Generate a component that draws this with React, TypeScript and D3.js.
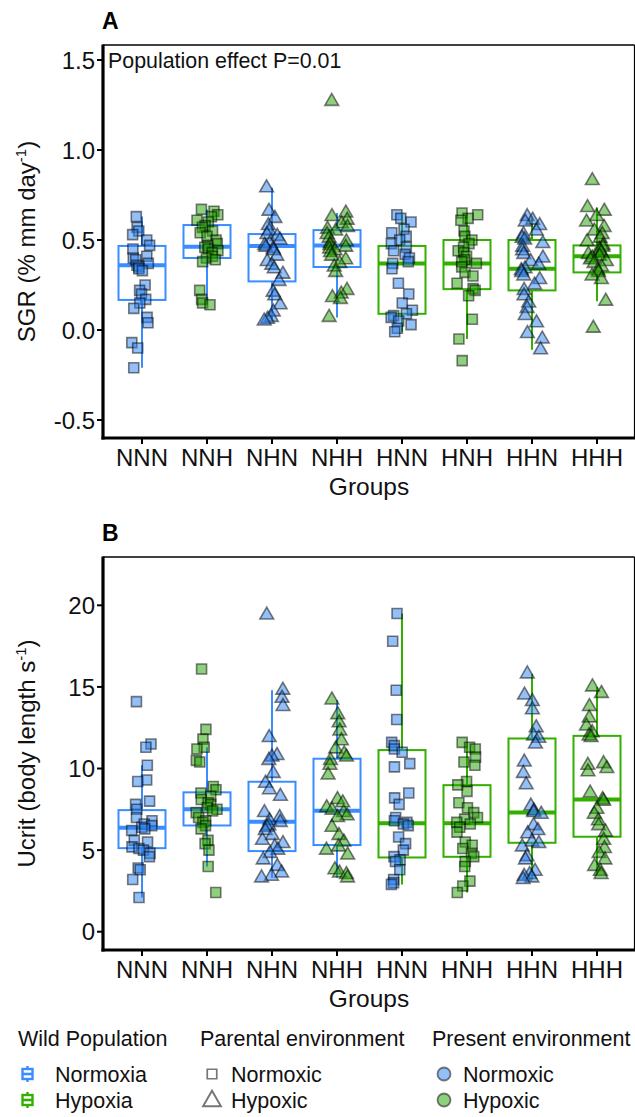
import React from 'react';
import * as d3 from 'd3';

// ---------- DATA ----------
const groups = ['NNN', 'NNH', 'NHN', 'NHH', 'HNN', 'HNH', 'HHN', 'HHH'];
const sgrTicks = [-0.5, 0.0, 0.5, 1.0, 1.5];
const ucritTicks = [0, 5, 10, 15, 20];

// SGR (% mm day-1) per group
const sgrNNN = [0.63, 0.57, 0.55, 0.53, 0.50, 0.47, 0.45, 0.41, 0.40, 0.39, 0.37, 0.36, 0.35, 0.34, 0.33, 0.25, 0.22, 0.20, 0.17, 0.15, 0.12, 0.07, 0.04, -0.07, -0.10, -0.21];
const sgrNNH = [0.67, 0.66, 0.64, 0.63, 0.61, 0.60, 0.58, 0.57, 0.55, 0.54, 0.52, 0.50, 0.48, 0.47, 0.46, 0.45, 0.44, 0.43, 0.41, 0.40, 0.39, 0.38, 0.22, 0.17, 0.15, 0.14];
const sgrNHN = [0.79, 0.66, 0.62, 0.58, 0.55, 0.53, 0.52, 0.50, 0.48, 0.47, 0.46, 0.45, 0.44, 0.41, 0.38, 0.36, 0.34, 0.31, 0.27, 0.21, 0.19, 0.14, 0.10, 0.07, 0.06, 0.05];
const sgrNHH = [1.27, 0.65, 0.63, 0.61, 0.59, 0.57, 0.56, 0.55, 0.53, 0.51, 0.49, 0.48, 0.47, 0.46, 0.45, 0.44, 0.43, 0.41, 0.39, 0.37, 0.35, 0.32, 0.22, 0.20, 0.18, 0.17, 0.07];
const sgrHNN = [0.64, 0.62, 0.60, 0.56, 0.54, 0.52, 0.50, 0.48, 0.46, 0.44, 0.42, 0.40, 0.38, 0.37, 0.34, 0.26, 0.20, 0.15, 0.11, 0.09, 0.08, 0.07, 0.05, 0.03, 0.01, -0.01];
const sgrHNH = [0.65, 0.64, 0.62, 0.61, 0.55, 0.52, 0.50, 0.48, 0.46, 0.44, 0.43, 0.41, 0.39, 0.38, 0.37, 0.35, 0.32, 0.30, 0.26, 0.23, 0.22, 0.19, 0.06, -0.05, -0.17];
const sgrHHN = [0.63, 0.61, 0.60, 0.58, 0.55, 0.53, 0.51, 0.50, 0.48, 0.46, 0.44, 0.42, 0.40, 0.38, 0.36, 0.34, 0.33, 0.32, 0.30, 0.28, 0.25, 0.22, 0.19, 0.15, 0.12, 0.08, 0.04, -0.02, -0.05, -0.11];
const sgrHHH = [0.83, 0.68, 0.66, 0.63, 0.60, 0.57, 0.55, 0.53, 0.51, 0.49, 0.47, 0.46, 0.45, 0.44, 0.43, 0.42, 0.41, 0.40, 0.39, 0.38, 0.37, 0.35, 0.33, 0.32, 0.30, 0.28, 0.16, 0.01];

// SGR box statistics
const sgrLo = [-0.21, 0.14, 0.05, 0.07, -0.01, -0.05, -0.11, 0.16];
const sgrQ1 = [0.167, 0.40, 0.27, 0.35, 0.09, 0.227, 0.22, 0.32];
const sgrMed = [0.36, 0.463, 0.467, 0.47, 0.37, 0.37, 0.34, 0.41];
const sgrQ3 = [0.467, 0.583, 0.533, 0.555, 0.467, 0.50, 0.50, 0.47];
const sgrHi = [0.63, 0.67, 0.79, 0.65, 0.64, 0.65, 0.63, 0.68];

// Ucrit (body length s-1) per group
const ucNNN = [14.1, 11.5, 11.3, 10.2, 9.3, 9.2, 8.0, 7.8, 7.5, 7.0, 6.8, 6.6, 6.5, 6.4, 6.3, 6.2, 5.6, 5.5, 5.2, 5.1, 5.0, 4.8, 4.6, 3.9, 3.8, 3.2, 2.1];
const ucNNH = [16.1, 12.4, 11.8, 11.3, 11.2, 10.5, 10.4, 8.9, 8.7, 8.5, 8.3, 8.1, 7.9, 7.8, 7.6, 7.5, 7.4, 7.3, 7.0, 6.8, 6.7, 6.5, 6.3, 5.6, 5.4, 5.0, 4.0, 2.4];
const ucNHN = [19.4, 14.8, 14.3, 13.8, 11.9, 10.8, 10.7, 10.5, 9.7, 9.1, 8.7, 8.3, 7.3, 7.0, 6.8, 6.7, 6.5, 6.4, 6.2, 5.9, 5.6, 5.4, 5.2, 5.0, 4.8, 4.4, 4.0, 3.6, 3.4, 3.3];
const ucNHH = [14.2, 13.3, 12.8, 12.3, 11.7, 11.2, 10.9, 10.7, 10.5, 10.2, 9.6, 8.1, 7.9, 7.6, 7.45, 7.3, 7.1, 7.0, 6.4, 5.9, 5.5, 5.2, 5.0, 4.7, 3.8, 3.6, 3.5, 3.3];
const ucHNN = [19.5, 17.8, 14.8, 13.0, 11.6, 11.4, 11.2, 11.0, 10.3, 10.1, 8.5, 8.2, 7.8, 7.0, 6.8, 6.7, 6.6, 6.5, 5.8, 5.4, 5.0, 4.6, 4.4, 4.3, 3.8, 3.2, 3.0, 2.9];
const ucHNH = [11.6, 11.3, 11.2, 10.7, 10.4, 10.2, 9.2, 9.0, 8.6, 7.9, 7.6, 7.3, 7.0, 6.9, 6.7, 6.6, 6.4, 6.1, 5.5, 5.3, 5.1, 4.8, 4.6, 4.3, 4.0, 3.1, 2.8, 2.4];
const ucHHN = [15.8, 14.5, 14.1, 13.6, 12.5, 12.0, 11.85, 11.5, 10.4, 9.7, 9.0, 7.7, 7.4, 7.3, 7.2, 6.5, 6.2, 6.0, 5.5, 5.4, 5.2, 4.6, 4.4, 3.7, 3.5, 3.4, 3.3, 3.2];
const ucHHH = [15.0, 14.6, 13.8, 13.1, 12.6, 12.2, 12.0, 11.9, 10.3, 10.2, 10.0, 9.8, 8.5, 8.1, 8.0, 7.5, 7.2, 6.8, 6.5, 6.1, 5.6, 5.1, 4.8, 4.4, 4.0, 3.7, 3.5];

// Ucrit box statistics
const ucLo = [2.1, 4.0, 3.3, 3.3, 2.9, 2.4, 3.2, 3.5];
const ucQ1 = [5.12, 6.51, 4.94, 5.31, 4.55, 4.59, 5.45, 5.82];
const ucMed = [6.37, 7.5, 6.74, 7.41, 6.64, 6.64, 7.31, 8.1];
const ucQ3 = [7.45, 8.54, 9.19, 10.6, 11.13, 8.98, 11.84, 12.0];
const ucHi = [10.2, 11.3, 14.8, 14.2, 19.5, 11.6, 15.8, 15.0];

const sgrValues = [sgrNNN, sgrNNH, sgrNHN, sgrNHH, sgrHNN, sgrHNH, sgrHHN, sgrHHH];
const ucValues = [ucNNN, ucNNH, ucNHN, ucNHH, ucHNN, ucHNH, ucHHN, ucHHH];

// ---------- STYLE ----------
const FONT = "'Liberation Sans', Arial, Helvetica, sans-serif";
const BOX_BLUE = '#3A8DFF';
const BOX_GREEN = '#33AF00';
const PT_BLUE = '#2A7FF0';
const PT_GREEN = '#22A000';
const W = 635;
const H = 1117;

const xScale = d3.scalePoint<string>().domain(groups).range([103, 636]).padding(0.6);

function jitterFor(seed: number, n: number) {
  const rnd = d3.randomUniform.source(d3.randomLcg(seed))(-11, 11);
  return d3.range(n).map(() => rnd());
}

const sqPath = d3.symbol().type(d3.symbolSquare).size(100)() as string;
const triPath = d3.symbol().type(d3.symbolTriangle).size(82)() as string;

type PanelProps = {
  top: number;
  bottom: number;
  domain: [number, number];
  ticks: number[];
  tickFmt: (v: number) => string;
  values: number[][];
  lo: number[];
  q1: number[];
  med: number[];
  q3: number[];
  hi: number[];
  label: string;
  ylabelMain: string;
  ylabelSup: string;
  annotation?: string;
  seed: number;
};

function Panel(p: PanelProps) {
  const y = d3.scaleLinear().domain(p.domain).range([p.bottom, p.top]);
  const left = 103;
  const right = 634.5;
  const half = 23.5;
  const cy = (p.top + p.bottom) / 2;
  return (
    <g>
      <text x={102} y={p.top - 16} fontFamily={FONT} fontWeight="bold" fontSize={23}>{p.label}</text>
      {/* boxplots */}
      {groups.map((g, i) => {
        const cx = xScale(g)!;
        const col = g[0] === 'N' ? BOX_BLUE : BOX_GREEN;
        return (
          <g key={'b' + g}>
            <line x1={cx} x2={cx} y1={y(p.hi[i])} y2={y(p.q3[i])} stroke={col} strokeWidth={2} />
            <line x1={cx} x2={cx} y1={y(p.q1[i])} y2={y(p.lo[i])} stroke={col} strokeWidth={2} />
            <rect x={cx - half} y={y(p.q3[i])} width={half * 2} height={y(p.q1[i]) - y(p.q3[i])} fill="none" stroke={col} strokeWidth={2} />
            <line x1={cx - half} x2={cx + half} y1={y(p.med[i])} y2={y(p.med[i])} stroke={col} strokeWidth={4} />
          </g>
        );
      })}
      {/* points */}
      {groups.map((g, i) => {
        const cx = xScale(g)!;
        const jit = jitterFor(p.seed + i * 17, p.values[i].length);
        const fill = g[2] === 'N' ? PT_BLUE : PT_GREEN;
        const path = g[1] === 'N' ? sqPath : triPath;
        return (
          <g key={'p' + g}>
            {p.values[i].map((v, k) => (
              <path key={k} d={path} transform={`translate(${cx + jit[k]},${y(v)})`} fill={fill} fillOpacity={0.5} stroke="#000" strokeOpacity={0.5} strokeWidth={1.6} />
            ))}
          </g>
        );
      })}
      {/* panel border */}
      <line x1={left} x2={right} y1={p.top} y2={p.top} stroke="#000" strokeWidth={1.4} />
      <line x1={right} x2={right} y1={p.top} y2={p.bottom} stroke="#000" strokeWidth={1.2} />
      <line x1={left} x2={left} y1={p.top - 0.5} y2={p.bottom + 1.5} stroke="#000" strokeWidth={3.2} />
      <line x1={left - 1.5} x2={W} y1={p.bottom} y2={p.bottom} stroke="#000" strokeWidth={3.2} />
      {/* y ticks */}
      {p.ticks.map((t) => (
        <g key={'yt' + t}>
          <line x1={left - 6} x2={left} y1={y(t)} y2={y(t)} stroke="#000" strokeWidth={2} />
          <text x={left - 8} y={y(t)} dy="0.36em" textAnchor="end" fontFamily={FONT} fontSize={24} fill="#111">{p.tickFmt(t)}</text>
        </g>
      ))}
      {/* x ticks */}
      {groups.map((g) => (
        <g key={'xt' + g}>
          <line x1={xScale(g)} x2={xScale(g)} y1={p.bottom} y2={p.bottom + 6} stroke="#000" strokeWidth={2} />
          <text x={xScale(g)} y={p.bottom + 28} textAnchor="middle" fontFamily={FONT} fontSize={24} fill="#111">{g}</text>
        </g>
      ))}
      <text x={(left + W) / 2} y={p.bottom + 57} textAnchor="middle" fontFamily={FONT} fontSize={24.5} fill="#111">Groups</text>
      <text transform={`translate(35,${cy}) rotate(-90)`} textAnchor="middle" fontFamily={FONT} fontSize={24} fill="#111">
        {p.ylabelMain}
        <tspan dy={-9} fontSize={15}>{p.ylabelSup}</tspan>
        <tspan dy={9}>)</tspan>
      </text>
      {p.annotation && (
        <text x={108} y={p.top + 23} fontFamily={FONT} fontSize={21.4} fill="#111">{p.annotation}</text>
      )}
    </g>
  );
}

function Legend() {
  const r1 = 1074;
  const r2 = 1100;
  const fs = 21.5;
  const boxKey = (cy: number, col: string) => (
    <g>
      <line x1={27.5} x2={27.5} y1={cy - 8} y2={cy + 8} stroke={col} strokeWidth={2.4} />
      <rect x={22.5} y={cy - 5} width={10} height={10} fill="#fff" stroke={col} strokeWidth={2.4} />
      <line x1={22.5} x2={32.5} y1={cy} y2={cy} stroke={col} strokeWidth={2.6} />
    </g>
  );
  return (
    <g fontFamily={FONT} fill="#111">
      <text x={18} y={1046} fontSize={fs}>Wild Population</text>
      <text x={200} y={1046} fontSize={fs}>Parental environment</text>
      <text x={432} y={1046} fontSize={fs}>Present environment</text>
      {boxKey(r1, BOX_BLUE)}
      {boxKey(r2, BOX_GREEN)}
      <text x={55} y={r1 + 8} fontSize={fs}>Normoxia</text>
      <text x={55} y={r2 + 8} fontSize={fs}>Hypoxia</text>
      <path d={sqPath} transform={`translate(212,${r1}) scale(0.95)`} fill="none" stroke="#777" strokeWidth={1.8} />
      <path d={triPath} transform={`translate(212,${r2 + 1}) scale(1.3)`} fill="none" stroke="#777" strokeWidth={1.5} />
      <text x={231} y={r1 + 8} fontSize={fs}>Normoxic</text>
      <text x={231} y={r2 + 8} fontSize={fs}>Hypoxic</text>
      <circle cx={444} cy={r1} r={6.5} fill={PT_BLUE} fillOpacity={0.5} stroke="#000" strokeOpacity={0.5} strokeWidth={1.8} />
      <circle cx={444} cy={r2} r={6.5} fill={PT_GREEN} fillOpacity={0.5} stroke="#000" strokeOpacity={0.5} strokeWidth={1.8} />
      <text x={463} y={r1 + 8} fontSize={fs}>Normoxic</text>
      <text x={463} y={r2 + 8} fontSize={fs}>Hypoxic</text>
    </g>
  );
}

export default function App() {
  const fmtA = (v: number) => d3.format('.1f')(v).replace('\u2212', '-');
  return (
    <svg width={W} height={H} viewBox={`0 0 ${W} ${H}`} style={{ position: 'absolute', left: 0, top: 0, background: '#fff', display: 'block' }}>
      <rect x={0} y={0} width={W} height={H} fill="#fff" />
      <Panel
        top={45}
        bottom={438}
        domain={[-0.6, 1.5833]}
        ticks={sgrTicks}
        tickFmt={fmtA}
        values={sgrValues}
        lo={sgrLo}
        q1={sgrQ1}
        med={sgrMed}
        q3={sgrQ3}
        hi={sgrHi}
        label="A"
        ylabelMain="SGR (% mm day"
        ylabelSup="-1"
        annotation="Population effect P=0.01"
        seed={11}
      />
      <Panel
        top={557}
        bottom={950}
        domain={[-1.12, 22.96]}
        ticks={ucritTicks}
        tickFmt={(v) => String(v)}
        values={ucValues}
        lo={ucLo}
        q1={ucQ1}
        med={ucMed}
        q3={ucQ3}
        hi={ucHi}
        label="B"
        ylabelMain="Ucrit (body length s"
        ylabelSup="-1"
        seed={29}
      />
      <Legend />
    </svg>
  );
}
